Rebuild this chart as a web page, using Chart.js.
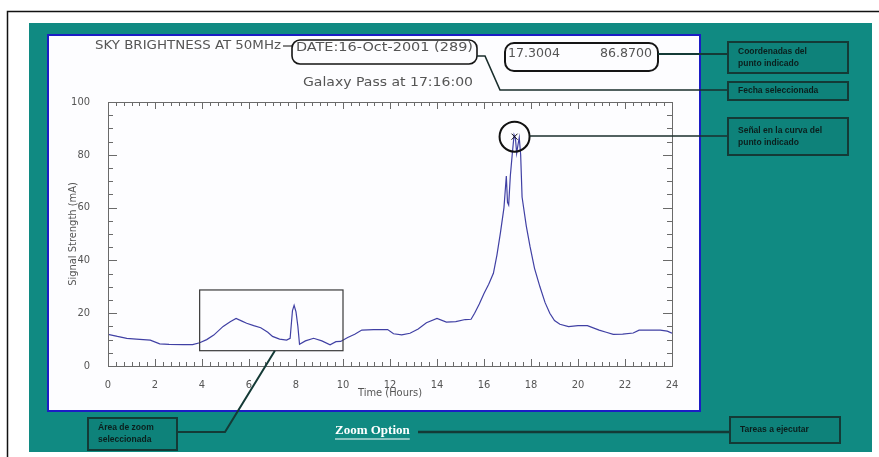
<!DOCTYPE html>
<html>
<head>
<meta charset="utf-8">
<script src="https://cdn.jsdelivr.net/npm/chart.js@4.4.1/dist/chart.umd.min.js"></script>
<style>
  html, body { margin: 0; padding: 0; background: #ffffff; }
  canvas { display: block; }
</style>
</head>
<body>
<canvas id="skyChart" width="879" height="457"></canvas>
<script>
// ---- data ----
const hours = [
  0.0, 0.4, 0.8, 1.2, 1.8, 2.2, 2.6, 3.2, 3.6, 3.9,
  4.2, 4.5, 4.9, 5.2, 5.45, 5.7, 5.9, 6.2, 6.5, 6.8,
  7.0, 7.3, 7.6, 7.75, 7.85, 7.92, 8.0, 8.08, 8.15, 8.4,
  8.75, 9.1, 9.45, 9.7, 9.9, 10.2, 10.5, 10.8, 11.3, 11.9,
  12.15, 12.5, 12.85, 13.2, 13.55, 14.0, 14.4, 14.8, 15.2, 15.45,
  15.6, 15.8, 16.0, 16.2, 16.4, 16.55, 16.7, 16.85, 16.95, 17.0,
  17.05, 17.12, 17.2, 17.28, 17.34, 17.39, 17.45, 17.5, 17.56, 17.62,
  17.8, 17.96, 18.15, 18.38, 18.6, 18.8, 19.0, 19.23, 19.6, 20.0,
  20.4, 20.9, 21.2, 21.5, 21.9, 22.35, 22.6, 23.1, 23.5, 23.8,
  24.0
];
const signal = [
  12.0, 11.2, 10.5, 10.2, 9.8, 8.4, 8.2, 8.1, 8.1, 8.8,
  10.0, 11.7, 15.0, 16.8, 18.0, 17.0, 16.2, 15.3, 14.5, 12.8,
  11.2, 10.2, 9.8, 10.5, 21.0, 23.0, 20.5, 15.0, 8.2, 9.5,
  10.5, 9.5, 8.0, 9.2, 9.3, 10.8, 12.0, 13.6, 13.8, 13.8,
  12.2, 11.8, 12.4, 14.0, 16.4, 18.0, 16.6, 16.8, 17.6, 17.7,
  20.0, 23.5, 27.5, 31.0, 35.1, 42.0, 50.5, 60.0, 72.0, 62.0,
  61.0, 72.0, 80.0, 87.5, 86.0, 80.6, 84.0, 86.5, 80.0, 64.0,
  53.0, 45.2, 37.0, 30.0, 24.0, 20.0, 17.2, 15.8, 14.9, 15.3,
  15.3, 13.6, 12.8, 12.0, 12.1, 12.5, 13.6, 13.6, 13.6, 13.2,
  12.4
];
const xTickLabels = [0, 2, 4, 6, 8, 10, 12, 14, 16, 18, 20, 22, 24];
const yTickLabels = [0, 20, 40, 60, 80, 100];

// selected zoom area and marked point
const zoomHours = [3.9, 10];
const zoomSignal = [5.8, 28.8];
const markedPoint = [17.3004, 86.8700];

const titleText = "SKY BRIGHTNESS AT 50MHz";
const dateText = "DATE:16-Oct-2001 (289)";
const passText = "Galaxy Pass at 17:16:00";

const TEAL = "#108a82";
const DARK = "#143a36";
const GREY = "#555555";
const NARROW = "'Liberation Sans Narrow', 'DejaVu Sans Condensed', sans-serif";

/* =========================
   helpers
========================= */

function fitText(ctx, text, x, y, w){
    // draws text stretched/squeezed to width w, left aligned, middle baseline
    const m = ctx.measureText(text).width;
    ctx.save();
    ctx.translate(x, y);
    ctx.scale(w / m, 1);
    ctx.textAlign = "left";
    ctx.textBaseline = "middle";
    ctx.fillText(text, 0, 0);
    ctx.restore();
}

function roundBox(ctx, x, y, w, h, r){
    ctx.beginPath();
    ctx.roundRect(x, y, w, h, r);
    ctx.stroke();
}

function calloutBox(ctx, x, y, w, h, lines){
    ctx.save();
    ctx.fillStyle = "#0e827a";
    ctx.fillRect(x, y, w, h);
    ctx.strokeStyle = DARK;
    ctx.lineWidth = 2;
    ctx.strokeRect(x, y, w, h);
    ctx.fillStyle = "#0b1f1d";
    ctx.font = "bold 8.5px 'Liberation Sans', sans-serif";
    ctx.textAlign = "left";
    ctx.textBaseline = "middle";
    const gap = 12;
    const y0 = y + h / 2 - (lines.length - 1) * gap / 2;
    lines.forEach(function(t, i){
        ctx.fillText(t, x + 10, y0 + i * gap);
    });
    ctx.restore();
}

function line(ctx, pts, color, width){
    ctx.save();
    ctx.strokeStyle = color;
    ctx.lineWidth = width;
    ctx.beginPath();
    ctx.moveTo(pts[0][0], pts[0][1]);
    for(let i = 1; i < pts.length; i++){
        ctx.lineTo(pts[i][0], pts[i][1]);
    }
    ctx.stroke();
    ctx.restore();
}

/* =========================
   decoration plugin
========================= */

const decor = {
    id: "decor",
    beforeDraw(chart){
        const ctx = chart.ctx;
        ctx.save();
        ctx.fillStyle = "#ffffff";
        ctx.fillRect(0, 0, chart.width, chart.height);
        // outer frame
        line(ctx, [[7.5, 457], [7.5, 11.5], [879, 11.5]], "#111111", 1.5);
        // teal page
        ctx.fillStyle = TEAL;
        ctx.fillRect(29, 23, 843, 429);
        // white panel with blue edge
        ctx.fillStyle = "#fdfdff";
        ctx.fillRect(48, 35, 652, 376);
        ctx.strokeStyle = "#1c1cc4";
        ctx.lineWidth = 2;
        ctx.strokeRect(48, 35, 652, 376);
        ctx.restore();
    },
    afterDraw(chart){
        const ctx = chart.ctx;
        const xs = chart.scales.x;
        const ys = chart.scales.y;
        const a = chart.chartArea;

        ctx.save();

        // plot frame
        ctx.strokeStyle = "#6a6a6a";
        ctx.lineWidth = 1;
        ctx.strokeRect(a.left + 0.5, a.top + 0.5, a.right - a.left, a.bottom - a.top);

        // inward ticks, x: minor every 20 minutes, major at labels
        ctx.beginPath();
        for(let k = 0; k <= 72; k++){
            const h = k / 3;
            const px = Math.round(xs.getPixelForValue(h)) + 0.5;
            const len = (k % 6 === 0) ? 7 : 4;
            ctx.moveTo(px, a.bottom); ctx.lineTo(px, a.bottom - len);
            ctx.moveTo(px, a.top); ctx.lineTo(px, a.top + len);
        }
        // y: minor every 5
        for(let v = 0; v <= 100; v += 5){
            const py = Math.round(ys.getPixelForValue(v)) + 0.5;
            const len = (v % 20 === 0) ? 9 : 5;
            ctx.moveTo(a.left, py); ctx.lineTo(a.left + len, py);
            ctx.moveTo(a.right, py); ctx.lineTo(a.right - len, py);
        }
        ctx.stroke();

        // zoom area rectangle
        const zx0 = xs.getPixelForValue(zoomHours[0]);
        const zx1 = xs.getPixelForValue(zoomHours[1]);
        const zy0 = ys.getPixelForValue(zoomSignal[0]);
        const zy1 = ys.getPixelForValue(zoomSignal[1]);
        ctx.strokeStyle = "#3a3a3a";
        ctx.lineWidth = 1.2;
        ctx.strokeRect(zx0, zy1, zx1 - zx0, zy0 - zy1);

        // marked point circle
        const mx = xs.getPixelForValue(markedPoint[0]);
        const my = ys.getPixelForValue(markedPoint[1]);
        ctx.strokeStyle = "#111111";
        ctx.lineWidth = 2;
        ctx.beginPath();
        ctx.arc(mx, my, 15, 0, Math.PI * 2);
        ctx.stroke();
        ctx.lineWidth = 1;
        ctx.beginPath();
        ctx.moveTo(mx - 3, my - 3); ctx.lineTo(mx + 3, my + 3);
        ctx.moveTo(mx + 3, my - 3); ctx.lineTo(mx - 3, my + 3);
        ctx.stroke();

        // header texts
        ctx.fillStyle = GREY;
        ctx.font = "12px " + NARROW;
        fitText(ctx, titleText, 95, 46, 186);
        line(ctx, [[283, 46], [292, 46]], "#333333", 1.2);
        ctx.strokeStyle = "#151515";
        ctx.lineWidth = 1.6;
        roundBox(ctx, 292, 40, 185, 24, 8);
        ctx.fillStyle = GREY;
        fitText(ctx, dateText, 296, 48, 177);
        fitText(ctx, passText, 303, 83, 170);

        // readout of the marked point
        ctx.strokeStyle = "#151515";
        ctx.lineWidth = 2;
        roundBox(ctx, 505, 43, 153, 28, 9);
        ctx.fillStyle = GREY;
        fitText(ctx, markedPoint[0].toFixed(4), 508, 54, 52);
        fitText(ctx, markedPoint[1].toFixed(4), 600, 54, 52);

        // callouts on the right
        line(ctx, [[658, 54], [728, 54]], DARK, 2);
        line(ctx, [[477, 56], [485, 56], [500, 90], [728, 90]], "#1a2e2c", 1.6);
        line(ctx, [[mx + 15, 136], [728, 136]], "#1a2e2c", 1.6);
        calloutBox(ctx, 728, 42, 120, 31, ["Coordenadas del", "punto indicado"]);
        calloutBox(ctx, 728, 82, 120, 18, ["Fecha seleccionada"]);
        calloutBox(ctx, 728, 118, 120, 37, ["Señal en la curva del", "punto indicado"]);

        // bottom: zoom option and callouts
        ctx.fillStyle = "#ffffff";
        ctx.font = "bold 13px 'Liberation Serif', serif";
        ctx.textAlign = "left";
        ctx.textBaseline = "middle";
        ctx.fillText("Zoom Option", 335, 431);
        const zw = ctx.measureText("Zoom Option").width;
        line(ctx, [[335, 439], [335 + zw, 439]], "#ffffff", 1);
        line(ctx, [[418, 432], [730, 432]], DARK, 2.5);
        calloutBox(ctx, 730, 417, 110, 26, ["Tareas a ejecutar"]);

        const ax = xs.getPixelForValue(7.1);
        line(ctx, [[ax, zy0], [225, 432], [177, 432]], DARK, 2);
        calloutBox(ctx, 88, 418, 89, 32, ["Área de zoom", "seleccionada"]);

        ctx.restore();
    }
};

/* =========================
   chart
========================= */

const points = hours.map(function(h, i){
    return { x: h, y: signal[i] };
});

new Chart(document.getElementById("skyChart"), {
    type: "line",
    data: {
        datasets: [{
            label: "Signal",
            data: points,
            borderColor: "#4040a4",
            borderWidth: 1.2,
            pointRadius: 0,
            tension: 0,
            fill: false
        }]
    },
    options: {
        responsive: false,
        animation: false,
        layout: {
            padding: { left: 63, right: 207, top: 102, bottom: 53 }
        },
        plugins: {
            legend: { display: false },
            tooltip: { enabled: false }
        },
        scales: {
            x: {
                type: "linear",
                min: 0,
                max: 24,
                afterFit(scale){ scale.height = 38; },
                afterBuildTicks(scale){
                    scale.ticks = xTickLabels.map(function(v){ return { value: v }; });
                },
                grid: { display: false },
                border: { display: false },
                ticks: {
                    color: GREY,
                    padding: 5,
                    maxRotation: 0,
                    font: { family: NARROW, size: 11 }
                },
                title: {
                    display: true,
                    text: "Time (Hours)",
                    color: GREY,
                    padding: { top: 0, bottom: 4 },
                    font: { family: NARROW, size: 11 }
                }
            },
            y: {
                min: 0,
                max: 100,
                afterFit(scale){ scale.width = 45; },
                afterBuildTicks(scale){
                    scale.ticks = yTickLabels.map(function(v){ return { value: v }; });
                },
                grid: { display: false },
                border: { display: false },
                ticks: {
                    color: GREY,
                    padding: 10,
                    font: { family: NARROW, size: 11 }
                },
                title: {
                    display: true,
                    text: "Signal Strength (mA)",
                    color: GREY,
                    padding: { top: 4, bottom: 0 },
                    font: { family: NARROW, size: 11 }
                }
            }
        }
    },
    plugins: [decor]
});
</script>
</body>
</html>
